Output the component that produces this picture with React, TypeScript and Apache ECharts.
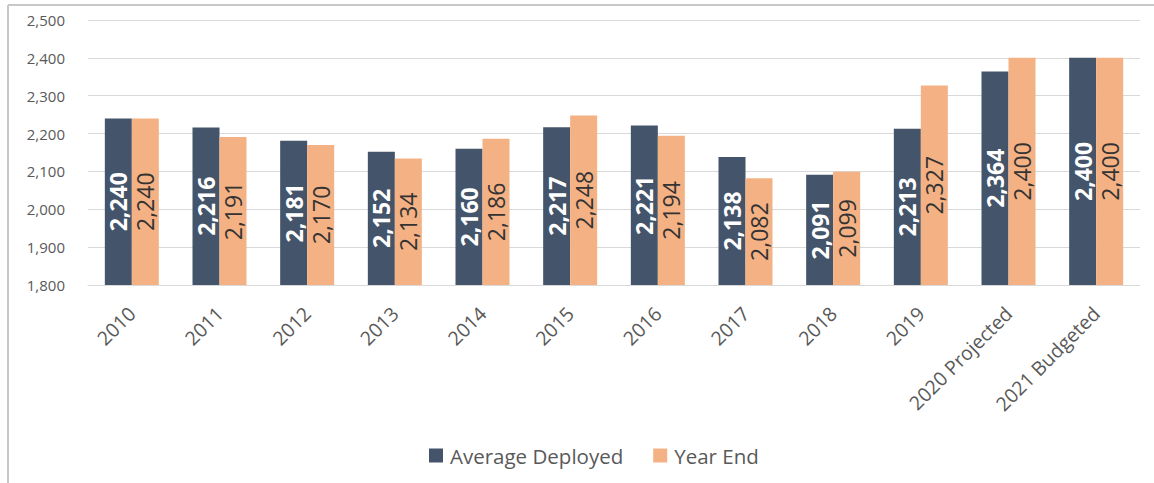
import React, { useEffect, useRef } from "react";
import * as echarts from "echarts";

const categories = ["2010", "2011", "2012", "2013", "2014", "2015", "2016", "2017", "2018", "2019", "2020 Projected", "2021 Budgeted"];
const averageDeployed = [2240, 2216, 2181, 2152, 2160, 2217, 2221, 2138, 2091, 2213, 2364, 2400];
const yearEnd = [2240, 2191, 2170, 2134, 2186, 2248, 2194, 2082, 2099, 2327, 2400, 2400];

const fmt = (v: number) => v.toLocaleString("en-US");
const FONT = "'Open Sans', 'Noto Sans', sans-serif";

export default function App() {
  const ref = useRef<HTMLDivElement>(null);
  useEffect(() => {
    if (!ref.current) return;
    const chart = echarts.init(ref.current, null, { renderer: "svg" });
    chart.setOption({
      animation: false,
      textStyle: { fontFamily: FONT },
      graphic: [
        { type: "line", shape: { x1: 8, y1: 5, x2: 1154, y2: 5 }, style: { stroke: "#c8c8c8", lineWidth: 2 } },
        { type: "line", shape: { x1: 8, y1: 5, x2: 8, y2: 483 }, style: { stroke: "#c8c8c8", lineWidth: 2 } },
      ],
      legend: {
        bottom: 12,
        left: 424,
        itemWidth: 14,
        itemHeight: 14,
        itemGap: 30,
        icon: "rect",
        textStyle: { fontSize: 20.5, color: "#595959", fontFamily: FONT, padding: [0, 0, 0, 2] },
        data: ["Average Deployed", "Year End"],
      },
      grid: { left: 88, right: 14, top: 20, bottom: 198, containLabel: false },
      xAxis: {
        type: "category",
        data: categories,
        axisLine: { lineStyle: { color: "#d9d9d9" } },
        axisTick: { show: false },
        axisLabel: { rotate: 45, fontSize: 19.5, color: "#595959", margin: 25, interval: 0, fontFamily: FONT },
      },
      yAxis: {
        type: "value",
        min: 1800,
        max: 2500,
        interval: 100,
        axisLine: { show: false },
        axisTick: { show: false },
        splitLine: { lineStyle: { color: "#d9d9d9" } },
        axisLabel: { fontSize: 15, color: "#595959", margin: 23, formatter: (v: number) => fmt(v), fontFamily: FONT },
      },
      series: [
        {
          name: "Average Deployed",
          type: "bar",
          data: averageDeployed,
          barWidth: 27,
          barGap: "0%",
          itemStyle: { color: "#44546A" },
          label: {
            show: true,
            position: "inside",
            rotate: 90,
            color: "#ffffff",
            fontWeight: "bold",
            fontSize: 23,
            fontFamily: FONT,
            formatter: (p: any) => fmt(p.value),
          },
        },
        {
          name: "Year End",
          type: "bar",
          data: yearEnd,
          barWidth: 27,
          barGap: "0%",
          itemStyle: { color: "#F4B183" },
          label: {
            show: true,
            position: "inside",
            rotate: 90,
            color: "#333333",
            fontSize: 23,
            fontFamily: FONT,
            formatter: (p: any) => fmt(p.value),
          },
        },
      ],
    });
    return () => chart.dispose();
  }, []);
  return <div ref={ref} style={{ position: "absolute", left: 0, top: 0, width: 1154, height: 483 }} />;
}
